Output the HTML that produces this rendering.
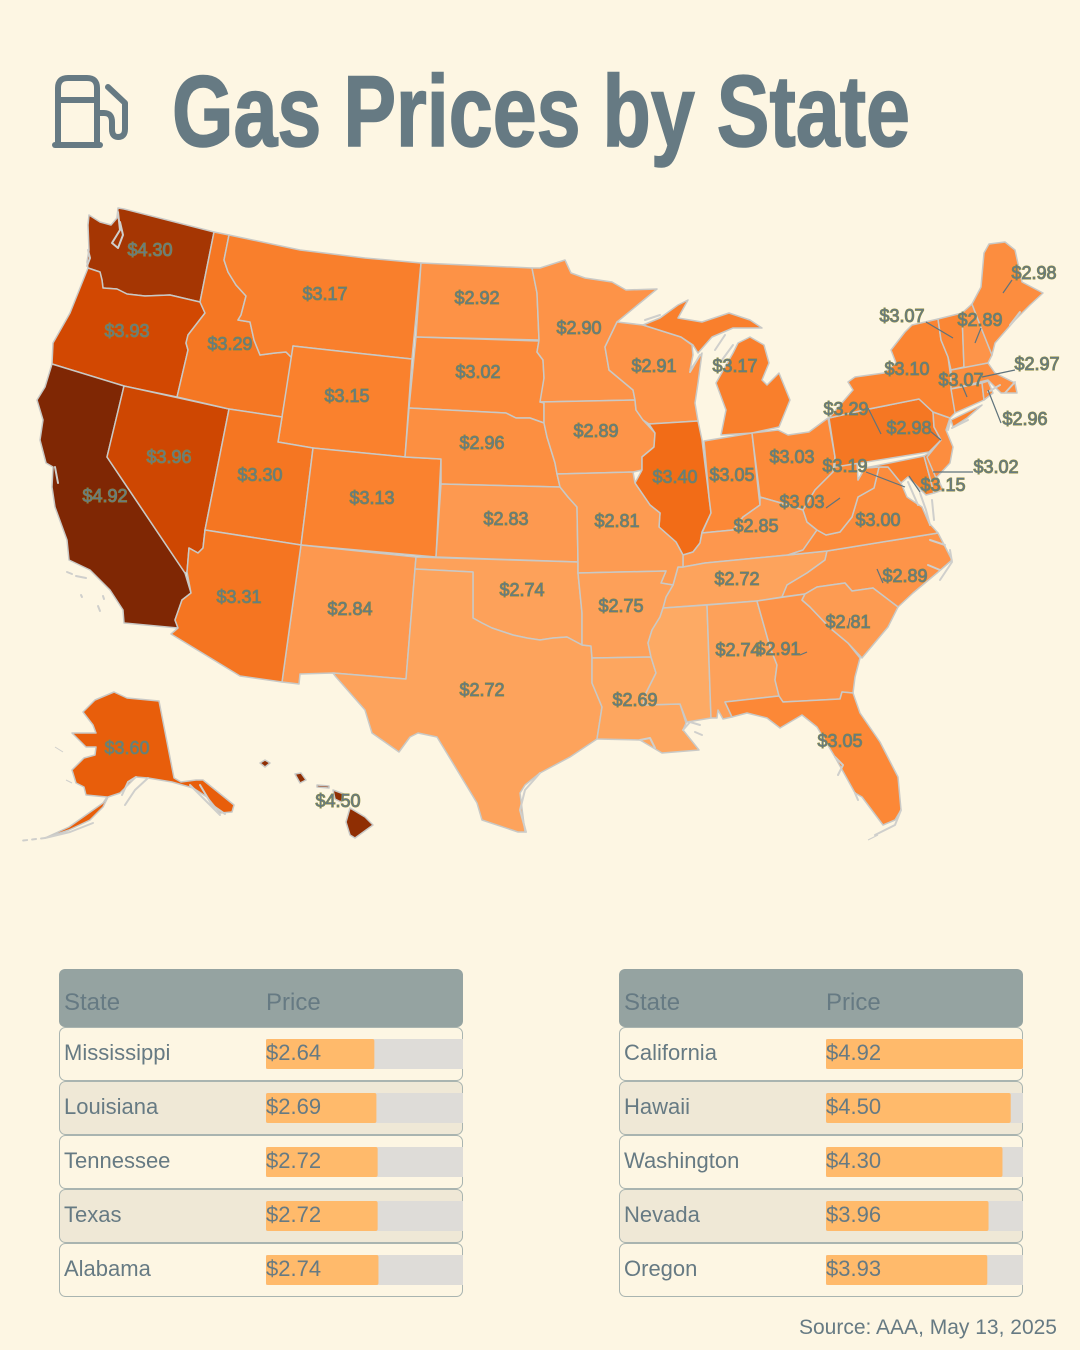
<!DOCTYPE html>
<html lang="en">
<head>
<meta charset="utf-8">
<title>Gas Prices by State</title>
<style>
html,body{margin:0;padding:0;background:#fdf6e3;width:1080px;height:1350px;overflow:hidden}
svg{display:block;font-family:"Liberation Sans",Arial,sans-serif}
.st{stroke:#c9c9c6;stroke-width:1.5;stroke-linejoin:round}
.coast{fill:none;stroke:#cfcfcc;stroke-width:2;stroke-linejoin:round;stroke-linecap:round}
.lbl{font-size:18px;fill:#667a83;stroke:#8a8a3c;stroke-width:1;paint-order:stroke;text-anchor:middle}
.lead{stroke:#5f737c;stroke-width:1.2}
.th{font-size:24px;fill:#667a83}
.td{font-size:22px;fill:#667a83}
</style>
</head>
<body>
<svg id="page" xmlns="http://www.w3.org/2000/svg" width="1080" height="1350" viewBox="0 0 1080 1350">
  <rect width="1080" height="1350" fill="#fdf6e3"/>
  <g fill="none" stroke="#667a83" stroke-width="6" stroke-linecap="round" stroke-linejoin="round">
    <path d="M55 145H100"/>
    <path d="M58 145V88Q58 78 68 78H87Q97 78 97 88V145"/>
    <path d="M58 100H97"/>
    <path d="M97 113H104Q112 113 112 122V129Q112 137 118 137Q125 137 125 129V103L108 87"/>
  </g>
  <text x="172" y="146" font-size="101" font-weight="700" fill="#667a83" stroke="#667a83" stroke-width="1.6" textLength="738" lengthAdjust="spacingAndGlyphs">Gas Prices by State</text>
  <g id="map"></g>
  <g id="coasts">
    <path class="coast" d="M118 212L120 230L112 243L118 248L123 235L120 222"/>
    <path class="coast" d="M88 250L90 258L87 266"/>
    <path class="coast" d="M55 467L58 483"/>
    <path class="coast" d="M67 572L72 574M76 576L86 578M81 595L82 597M103 596L104 599M98 606L100 611"/>
    <path class="coast" d="M645 320L660 315M700 355L690 372M725 335L715 350M733 345L722 360"/>
    <path class="coast" d="M920 493L926 510L930 525M908 482L918 505M932 500L934 520"/>
    <path class="coast" d="M930 540L945 545M928 565L940 570M950 550L952 562L940 580"/>
    <path class="coast" d="M1000 385L988 392M1015 382L1005 393M1020 312L1010 325"/>
    <path class="coast" d="M950 422L948 430M952 428L968 420"/>
    <path class="coast" d="M683 730L690 722L700 725M695 732L702 735M640 740L650 738L655 748"/>
    <path class="coast" d="M835 757L843 765L838 775M855 793L858 800"/>
    <path class="coast" d="M540 773L525 790L520 810L526 832"/>
    <path class="coast" d="M901 810L895 825L875 835"/>
    <path class="coast" d="M136 777L128 782L122 795M148 778L135 790L125 805"/>
    <path class="coast" d="M93 823L70 832L45 838" stroke-width="2.5"/>
    <path class="coast" d="M45 838L19 841" stroke-dasharray="4 5"/>
    <path class="coast" d="M200 785L212 805L225 814M190 785L205 800L220 815"/>
  </g>
  <g id="specks" fill="#e85e0b" stroke="#cfcfcc" stroke-width="1">
    <path d="M55 747L63 752"/>
    <path d="M66 780L72 783"/>
    <path d="M868 840L878 835" stroke="#cfcfcc" fill="none"/>
  </g>
  <g id="leaders"></g>
  <g id="labels"></g>
  <g id="table-low"></g>
  <g id="table-high"></g>
  <text x="1057" y="1334" text-anchor="end" font-size="21" fill="#667a83">Source: AAA, May 13, 2025</text>
</svg>
<script>
const stateCodes = ["AL","AK","AZ","AR","CA","CO","CT","DE","DC","FL","GA","HI","ID","IL","IN","IA","KS","KY","LA","ME","MD","MA","MI","MN","MS","MO","MT","NE","NV","NH","NJ","NM","NY","NC","ND","OH","OK","OR","PA","RI","SC","SD","TN","TX","UT","VT","VA","WA","WV","WI","WY"];
const statePrices = [2.74,3.60,3.31,2.75,4.92,3.13,3.07,3.02,3.15,3.05,2.91,4.50,3.29,3.40,3.05,2.89,2.83,2.85,2.69,2.98,3.19,2.97,3.17,2.90,2.64,2.81,3.17,2.96,3.96,2.89,2.98,2.84,3.10,2.89,2.92,3.03,2.74,3.93,3.29,2.96,2.81,3.02,2.72,2.72,3.30,3.07,3.00,4.30,3.03,2.91,3.15];
const unlabelledStates = ["MS"];
const lowStates = ["Mississippi","Louisiana","Tennessee","Texas","Alabama"];
const lowPrices = [2.64,2.69,2.72,2.72,2.74];
const highStates = ["California","Hawaii","Washington","Nevada","Oregon"];
const highPrices = [4.92,4.50,4.30,3.96,3.93];

/* colour scale: price to fill */
const colorDomain = [2.64,2.72,2.9,3.1,3.3,3.4,3.6,3.93,4.3,4.5,4.92];
const colorRange = [[253,170,100],[253,163,92],[253,147,72],[251,132,49],[245,118,34],[242,108,23],[232,94,11],[210,72,2],[165,54,3],[143,46,3],[127,39,4]];
function colorScale(v){
  if(v<=colorDomain[0]) return "rgb("+colorRange[0]+")";
  for(let i=1;i<colorDomain.length;i++){
    if(v<=colorDomain[i]){
      const t=(v-colorDomain[i-1])/(colorDomain[i]-colorDomain[i-1]);
      const a=colorRange[i-1],b=colorRange[i];
      return "rgb("+a.map((c,k)=>Math.round(c+(b[k]-c)*t))+")";
    }
  }
  return "rgb("+colorRange[colorRange.length-1]+")";
}
function priceWidth(v){ return Math.max(0,Math.min(197,v/4.8*197)); }
function priceText(v){ return "$"+v.toFixed(2); }

/* state outlines (map geometry, not data) */
const outlines = {
WA:"124,209 214,232 200,302 170,295 145,296 127,294 117,289 103,288 102,280 100,272 88,268 87,262 89,250 88,225 89,215 100,222 111,225 117,218 118,208",
OR:"88,268 100,272 102,280 103,288 117,289 127,294 145,296 170,295 200,302 205,313 188,335 186,343 188,350 177,397 124,386 52,364 53,343 70,313",
CA:"52,364 124,386 107,457 185,573 191,593 182,600 175,620 178,628 124,623 123,610 110,590 90,570 69,560 67,540 55,507 52,487 53,467 46,463 40,440 43,420 37,400 45,387",
NV:"124,386 229,409 205,530 203,548 198,553 189,548 187,572 185,573 107,457",
ID:"214,232 229,235 224,260 228,272 236,285 246,296 241,315 238,320 250,322 254,340 260,355 275,353 286,352 292,358 282,417 229,409 177,397 188,350 186,343 188,335 205,313 200,302",
MT:"229,235 300,250 365,258 421,263 412,359 365,354 293,346 292,358 286,352 275,353 260,355 254,340 250,322 238,320 241,315 246,296 236,285 228,272 224,260",
WY:"293,346 365,354 412,359 405,457 313,448 278,442 282,417",
UT:"229,409 282,417 278,442 313,448 301,545 205,530",
CO:"313,448 405,457 441,459 436,557 301,545",
NM:"301,545 416,557 415,569 406,679 333,673 300,674 299,684 282,682",
AZ:"205,530 203,548 198,553 189,548 187,572 191,593 182,600 175,620 178,628 171,634 240,676 282,682 301,545",
ND:"421,263 532,268 537,293 539,340 416,337",
SD:"416,337 539,341 537,352 543,360 544,378 544,403 544,423 530,418 516,418 506,413 409,408",
NE:"409,408 506,413 516,418 530,418 544,423 547,437 555,463 557,474 560,487 441,484 441,459 405,457",
KS:"441,484 560,487 568,497 577,507 578,562 436,557",
OK:"416,557 578,562 578,573 582,613 582,645 567,637 553,638 540,640 527,638 513,635 492,628 482,623 473,618 473,572 415,569",
TX:"415,569 473,572 473,618 482,623 492,628 513,635 527,638 540,640 553,638 567,637 582,645 591,646 592,658 592,683 602,707 597,739 570,757 540,773 525,785 520,793 525,832 518,832 482,820 477,803 451,760 437,737 418,733 410,737 399,752 372,733 365,710 336,677 333,673 406,679",
MN:"532,268 540,268 565,260 571,273 585,278 612,282 626,290 657,289 640,303 617,322 605,347 609,370 633,390 635,400 540,402 544,378 543,360 537,352 539,340 537,293",
IA:"544,403 540,402 635,400 636,410 643,420 655,433 654,447 642,457 642,470 633,472 557,474 555,463 547,437 544,423",
WI:"617,322 643,325 681,337 692,345 693,355 690,370 702,353 698,383 695,403 698,421 649,424 643,420 636,410 635,400 633,390 609,370 605,347",
MIU:"643,325 660,318 678,305 688,300 678,318 702,322 729,313 750,320 762,328 733,328 712,337 698,353 693,345 681,337",
MIL:"750,337 764,345 769,363 762,380 767,385 779,373 790,400 779,427 752,433 721,435 726,410 716,383 733,353 738,343",
IL:"649,424 698,421 702,440 709,497 711,513 702,532 700,543 693,552 683,555 676,542 659,527 660,513 650,505 635,483 642,470 642,457 654,447 655,433",
IN:"704,441 752,433 759,497 760,505 743,517 733,530 712,532 702,533 711,513 709,497",
OH:"752,433 778,430 788,435 809,432 828,418 835,457 833,472 815,490 803,510 781,503 760,497",
KY:"760,497 781,503 803,510 807,522 817,530 803,550 788,555 705,563 683,567 683,555 693,552 700,543 702,533 712,532 733,530 743,517 760,505",
TN:"683,567 705,563 788,555 827,551 825,560 807,573 787,585 782,597 757,601 663,608 666,597 673,585 678,567",
NC:"827,551 938,533 952,560 937,573 913,593 898,607 873,588 852,591 845,583 817,587 805,594 782,597 787,585 807,573 825,560",
VA:"788,555 803,550 817,530 826,535 840,532 852,517 858,497 874,488 879,467 888,467 901,483 907,497 922,507 929,523 938,533 827,551",
WV:"833,472 835,457 838,463 857,463 858,480 865,468 879,467 874,488 858,497 852,517 840,532 826,535 817,530 807,522 803,510 815,490",
MD:"858,480 865,468 924,456 934,493 926,495 908,477 901,483 888,467 879,467 865,468",
DE:"924,456 929,453 934,470 943,490 934,493",
PA:"829,418 864,410 919,399 933,412 934,427 941,440 929,452 835,467 835,457",
NJ:"933,412 950,418 946,430 953,447 950,463 936,478 927,457 941,440 934,427",
NY:"829,418 853,390 848,382 855,377 884,373 896,363 891,350 905,332 912,325 938,319 941,340 948,357 953,393 955,413 950,418 933,412 919,399 864,410",
LI:"951,420 982,405 967,418 953,427",
VT:"938,319 962,313 964,367 951,370 948,357 941,340",
NH:"962,313 972,304 982,330 992,355 988,363 964,368",
ME:"972,304 981,287 984,253 989,244 1005,242 1015,250 1022,282 1043,293 1030,305 1015,320 995,343 992,355 982,330",
MA:"951,370 988,363 995,373 1015,383 1017,393 1001,393 988,380 951,389",
CT:"951,389 982,383 984,400 955,413",
RI:"982,383 988,381 993,393 984,400",
MO:"557,474 633,472 635,483 650,505 660,513 659,527 676,542 683,555 683,567 678,567 673,585 661,583 666,571 578,573 578,562 577,507 568,497 560,487",
AR:"578,573 666,571 661,583 673,585 666,597 663,608 660,617 652,630 648,643 651,657 592,658 591,646 582,645 582,613",
LA:"592,658 651,657 656,673 646,693 643,705 680,704 686,723 683,730 699,750 662,753 640,740 597,739 602,707 592,683",
MS:"663,608 707,605 711,718 687,722 680,704 643,705 646,693 656,673 651,657 648,643 652,630 660,617",
AL:"707,605 757,601 770,647 777,665 775,680 779,696 725,702 732,717 723,719 718,710 717,718 711,718",
GA:"757,601 805,594 802,600 810,607 830,628 848,643 860,658 855,677 853,693 842,692 840,699 783,702 779,696 775,680 777,665 770,647",
SC:"805,594 817,587 845,583 852,591 873,588 898,607 888,627 862,658 848,643 830,628 810,607 802,600",
FL:"725,702 779,696 783,702 840,699 842,692 853,693 860,713 880,742 898,777 901,810 895,820 883,825 862,797 855,793 835,757 817,727 802,715 780,728 767,718 747,713 732,717",
AK:"114,692 127,698 159,701 174,778 181,782 196,780 203,780 234,805 232,812 220,813 207,797 193,788 172,782 148,778 136,777 120,793 108,797 103,807 90,820 69,830 45,838 69,827 103,803 107,797 86,795 84,787 76,783 72,770 84,758 95,755 96,747 86,747 72,733 96,733 93,725 83,712 95,700",
HI1:"350,808 365,817 373,825 355,838 350,835 346,822",
HI2:"333,790 344,794 341,802 335,799",
HI3:"295,774 301,773 306,780 300,783",
HI4:"260,763 265,760 270,763 265,767",
HI5:"317,785 329,786 329,788 317,787"
};
const shapeState = {MIU:"MI",MIL:"MI",LI:"NY",HI1:"HI",HI2:"HI",HI3:"HI",HI4:"HI",HI5:"HI"};

/* label anchors and leaders */
const anchors = {WA:[150,250],OR:[127,331],CA:[105,496],NV:[169,457],ID:[230,344],MT:[325,294],WY:[347,396],UT:[260,475],CO:[372,498],AZ:[239,597],NM:[350,609],ND:[477,298],SD:[478,372],NE:[482,443],KS:[506,519],OK:[522,590],TX:[482,690],MN:[579,328],IA:[596,431],MO:[617,521],AR:[621,606],LA:[635,700],WI:[654,366],IL:[675,477],MI:[735,366],IN:[732,475],OH:[792,457],KY:[756,526],TN:[737,579],AL:[738,650],GA:[778,649],FL:[840,741],SC:[848,622],NC:[905,576],VA:[878,520],WV:[802,502],MD:[845,466],DC:[943,485],DE:[996,467],PA:[846,409],NJ:[909,428],NY:[907,369],CT:[961,380],RI:[1025,419],MA:[1037,364],VT:[902,316],NH:[980,320],ME:[1034,273],AK:[127,748],HI:[338,801]};
const leaderLines = [[1012,280,1003,293],[981,328,975,343],[926,322,953,338],[1015,370,982,377],[1001,423,988,390],[962,385,967,397],[973,472,933,472],[909,476,920,492],[866,472,905,487],[826,508,840,498],[868,408,881,434],[930,431,941,440],[877,569,883,583],[850,618,848,628],[800,655,807,652]];

const NS = "http://www.w3.org/2000/svg";
function make(tag,parent,attrs,text){
  const el=document.createElementNS(NS,tag);
  for(const k in attrs) el.setAttribute(k,attrs[k]);
  if(text!==undefined) el.textContent=text;
  parent.appendChild(el);
  return el;
}
const mapG=document.getElementById("map");
Object.keys(outlines).forEach(function(key){
  const code=shapeState[key]||key;
  const price=statePrices[stateCodes.indexOf(code)];
  const el=make("polygon",mapG,{class:"st",points:outlines[key],fill:colorScale(price)});
  
  
});
const leadG=document.getElementById("leaders");
leaderLines.forEach(function(p){
  const el=make("line",leadG,{class:"lead",x1:p[0],y1:p[1],x2:p[2],y2:p[3]});
  
  
});
const labelG=document.getElementById("labels");
stateCodes.forEach(function(code,i){
  if(unlabelledStates.indexOf(code)>=0) return;
  const a=anchors[code];
  const el=make("text",labelG,{class:"lbl",x:a[0],y:a[1]+6},priceText(statePrices[i]));
  
  
});
function drawTable(groupId,x0,names,prices){
  const g=document.getElementById(groupId);
  const head=make("rect",g,{x:x0,y:969,width:404,height:58,rx:6,fill:"#95a3a1"});
  
  
  const h1=make("text",g,{class:"th",x:x0+5,y:1010},"State");
  
  
  const h2=make("text",g,{class:"th",x:x0+207,y:1010},"Price");
  
  
  names.forEach(function(name,i){
    const y=1027+54*i;
    const row=make("rect",g,{x:x0+.5,y:y+.5,width:403,height:53,rx:6,fill:i%2?"#efe8d6":"#fdf6e3",stroke:"#a9b4b0","stroke-width":1});
    
    
    const track=make("rect",g,{x:x0+207,y:y+12,width:197,height:30,fill:"#dedcd8"});
    
    
    const bar=make("rect",g,{x:x0+207,y:y+12,width:priceWidth(prices[i]),height:30,rx:2,fill:"#ffba6b"});
    
    
    const t1=make("text",g,{class:"td",x:x0+5,y:y+33},name);
    
    
    const t2=make("text",g,{class:"td",x:x0+207,y:y+33},priceText(prices[i]));
    
    
  });
}
drawTable("table-low",59,lowStates,lowPrices);
drawTable("table-high",619,highStates,highPrices);
</script>
</body>
</html>
